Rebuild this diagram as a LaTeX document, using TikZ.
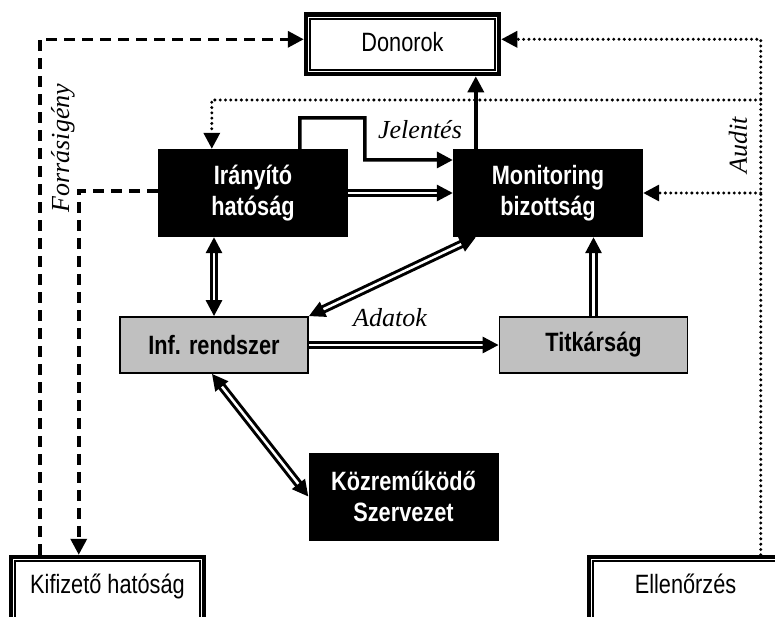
\documentclass[tikz,border=0pt]{standalone}
\usepackage{fontspec}
\setmainfont{Liberation Serif}
\newfontfamily\narrowsans[FakeStretch=0.82]{Liberation Sans}
\usetikzlibrary{arrows.meta,positioning,calc}
\definecolor{boxgrey}{RGB}{192,192,192}
\tikzset{
  >={Triangle[length=16pt,width=16pt]},
  boxfont/.style={font=\narrowsans\bfseries\fontsize{26.5}{31}\selectfont},
  blackbox/.style={boxfont,fill=black,text=white,align=center,minimum width=190pt,minimum height=88pt},
  greybox/.style={boxfont,draw,line width=1.8pt,fill=boxgrey,minimum width=188pt,minimum height=56pt},
  framebox/.style={draw,line width=4.5pt,fill=white,minimum width=193pt,inner ysep=0pt,font=\narrowsans\fontsize{26.5}{31}\selectfont},
  dbl/.style={line width=3pt,double distance=2.5pt},
  dashline/.style={line width=3.5pt,dash pattern=on 11pt off 7pt},
  dotline/.style={line width=3.3pt,line cap=round,dash pattern=on 0pt off 5.3pt},
  flowlabel/.style={font=\itshape\fontsize{26}{30}\selectfont}
}
\begin{document}
\begin{tikzpicture}[x=1pt,y=-1pt]
\useasboundingbox (0,0) rectangle (775,616);
\clip (0,0) rectangle (775,616);
% draw nodes
\node[framebox,text height=37pt,text depth=22.5pt] (don) at (402.5,44.3) {Donorok};
\node[framebox,text height=36.5pt,text depth=59.5pt] (kif) at (107.5,605) {Kifizet\H{o} hatóság};
\node[framebox,text height=36.5pt,text depth=59.5pt] (ell) at (685.5,605) {Ellen\H{o}rzés};
\foreach \n in {don,kif,ell}
\draw[line width=2pt] ([shift={(6.5pt,-6.5pt)}]\n.north west) rectangle ([shift={(-6.5pt,6.5pt)}]\n.south east);
\node[blackbox] (ira) at (253,193) {Irányító\\hatóság};
\node[blackbox] (mon) at (548,193) {Monitoring\\bizottság};
\node[greybox] (inf) at (214,345) {Inf. rendszer};
\node[greybox] (tit) at (593.5,345) {Titkárság};
\node[blackbox] (koz) at (403.5,496.5) {Közrem\H{u}köd\H{o}\\Szervezet};
% forrásigény (dashed)
\draw[dashline,->] ([xshift=31pt]kif.north west) |- ([yshift=5pt]don.west);
\draw[dashline,->] ([yshift=2pt]ira.west) -| ([xshift=70pt]kif.north west);
\node[flowlabel,rotate=90] (forr) at (63,148) {Forrásigény};
% audit (dotted)
\coordinate (rail) at ([xshift=174pt]ell.north west);
\coordinate (railtop) at (rail |- 0,100);
\draw[dotline,->] (rail) |- ([yshift=5pt]don.east);
\draw[dotline,->] (railtop) -| ([xshift=54pt]ira.north west);
\draw[dotline,->] (rail |- mon.east) -- (mon.east);
\node[flowlabel,rotate=90] (aud) at (738,145) {Audit};
% jelentés
\draw[line width=3.5pt,->] ([xshift=142pt]ira.north west) -- ++(0,-31) -- ++(65,0) -- ++(0,42) -- ([yshift=33pt]mon.west);
\node[flowlabel] (jel) at (420,130) {Jelentés};
\coordinate (mtop) at ([xshift=23pt]mon.north west);
\draw[line width=3.5pt,->] (mtop) -- (mtop |- don.south);
% double arrows
\draw[dbl,->] (ira.east) -- (mon.west);
\draw[dbl,<->] (inf.north |- ira.south) -- (inf.north);
\draw[dbl,<->] (inf.north east) -- ([xshift=23pt]mon.south west);
\node[flowlabel] (adat) at (390,318) {Adatok};
\draw[dbl,->] (inf.east) -- (tit.west);
\draw[dbl,->] (tit.north) -- (tit.north |- mon.south);
\draw[dbl,<->] ([xshift=-2pt]inf.south) -- (koz.west);
\end{tikzpicture}
\end{document}
